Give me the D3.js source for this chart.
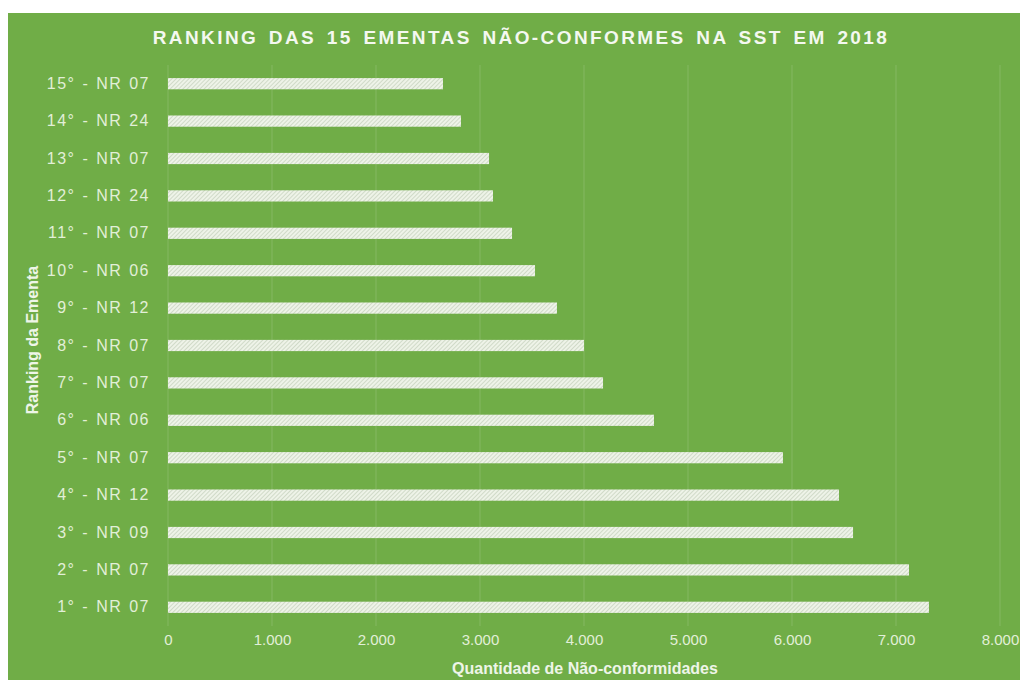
<!DOCTYPE html>
<html>
<head>
<meta charset="utf-8">
<script src="https://cdn.jsdelivr.net/npm/d3@7"></script>
<style>
  body { margin: 0; background: #fff; }
  svg { display: block; font-family: "Liberation Sans", Arial, sans-serif; }
</style>
</head>
<body>
<svg id="chart" width="1020" height="684"></svg>
<script>
// categories from top (15th) to bottom (1st)
var ranks = ["15° - NR 07", "14° - NR 24", "13° - NR 07", "12° - NR 24", "11° - NR 07",
             "10° - NR 06", "9° - NR 12", "8° - NR 07", "7° - NR 07", "6° - NR 06",
             "5° - NR 07", "4° - NR 12", "3° - NR 09", "2° - NR 07", "1° - NR 07"];
var counts = [2644, 2817, 3087, 3125, 3308, 3529, 3740, 4000, 4183, 4673,
              5913, 6452, 6587, 7125, 7317];
var xTicks = [0, 1000, 2000, 3000, 4000, 5000, 6000, 7000, 8000];

var svg = d3.select("#chart");
var margin = {top: 65, right: 20, bottom: 58, left: 168};
var width = 1020 - margin.left - margin.right;
var height = 684 - margin.top - margin.bottom;

// green panel
svg.append("rect")
    .attr("x", 8).attr("y", 13)
    .attr("width", 1012).attr("height", 667)
    .attr("fill", "#70ad47");

// hatch pattern for the bars
var defs = svg.append("defs");
var pat = defs.append("pattern")
    .attr("id", "hatch")
    .attr("patternUnits", "userSpaceOnUse")
    .attr("width", 3).attr("height", 3)
    .attr("patternTransform", "rotate(45)");
pat.append("rect").attr("width", 3).attr("height", 3).attr("fill", "#eef3e8");
pat.append("line")
    .attr("x1", 0).attr("y1", 0).attr("x2", 0).attr("y2", 3)
    .attr("stroke", "#b2c1a8").attr("stroke-width", 1);

var g = svg.append("g")
    .attr("transform", "translate(" + margin.left + "," + margin.top + ")");

var x = d3.scaleLinear().domain([0, 8000]).range([0, width]);
var y = d3.scaleBand().domain(ranks).range([0, height]).paddingInner(0.7).paddingOuter(0.35);

var fmt = function(d) { return d3.format(",")(d).replace(/,/g, "."); };

// gridlines
g.selectAll(".grid")
    .data(xTicks)
    .enter().append("line")
    .attr("class", "grid")
    .attr("x1", function(d) { return x(d); })
    .attr("x2", function(d) { return x(d); })
    .attr("y1", 0).attr("y2", height)
    .attr("stroke", "#84b862").attr("stroke-width", 1);

// x axis
var xAxis = g.append("g")
    .attr("transform", "translate(0," + height + ")")
    .call(d3.axisBottom(x).tickValues(xTicks).tickFormat(fmt).tickSize(0).tickPadding(8));
xAxis.select(".domain").remove();
xAxis.selectAll("text")
    .attr("fill", "#e2efd8")
    .style("font-size", "15px");

// y axis
var yAxis = g.append("g")
    .call(d3.axisLeft(y).tickSize(0).tickPadding(18));
yAxis.select(".domain").remove();
yAxis.selectAll("text")
    .attr("fill", "#e2efd8")
    .style("font-size", "16px")
    .style("letter-spacing", "1.5px")
    .style("word-spacing", "1px");

// bars
g.selectAll(".bar")
    .data(counts)
    .enter().append("rect")
    .attr("class", "bar")
    .attr("x", x(0))
    .attr("y", function(d, i) { return y(ranks[i]); })
    .attr("width", function(d) { return x(d) - x(0); })
    .attr("height", y.bandwidth())
    .attr("fill", "url(#hatch)");

// title
svg.append("text")
    .attr("x", 521)
    .attr("y", 44)
    .attr("text-anchor", "middle")
    .attr("fill", "#f4f8f0")
    .style("font-size", "19px")
    .style("font-weight", "bold")
    .style("letter-spacing", "2.4px")
    .style("word-spacing", "3px")
    .text("RANKING DAS 15 EMENTAS NÃO-CONFORMES NA SST EM 2018");

// axis titles
svg.append("text")
    .attr("x", 585)
    .attr("y", 674)
    .attr("text-anchor", "middle")
    .attr("fill", "#eef5e8")
    .style("font-size", "16px")
    .style("font-weight", "bold")
    .text("Quantidade de Não-conformidades");

svg.append("text")
    .attr("transform", "translate(38,340) rotate(-90)")
    .attr("text-anchor", "middle")
    .attr("fill", "#eef5e8")
    .style("font-size", "16px")
    .style("font-weight", "bold")
    .text("Ranking da Ementa");
</script>
</body>
</html>
